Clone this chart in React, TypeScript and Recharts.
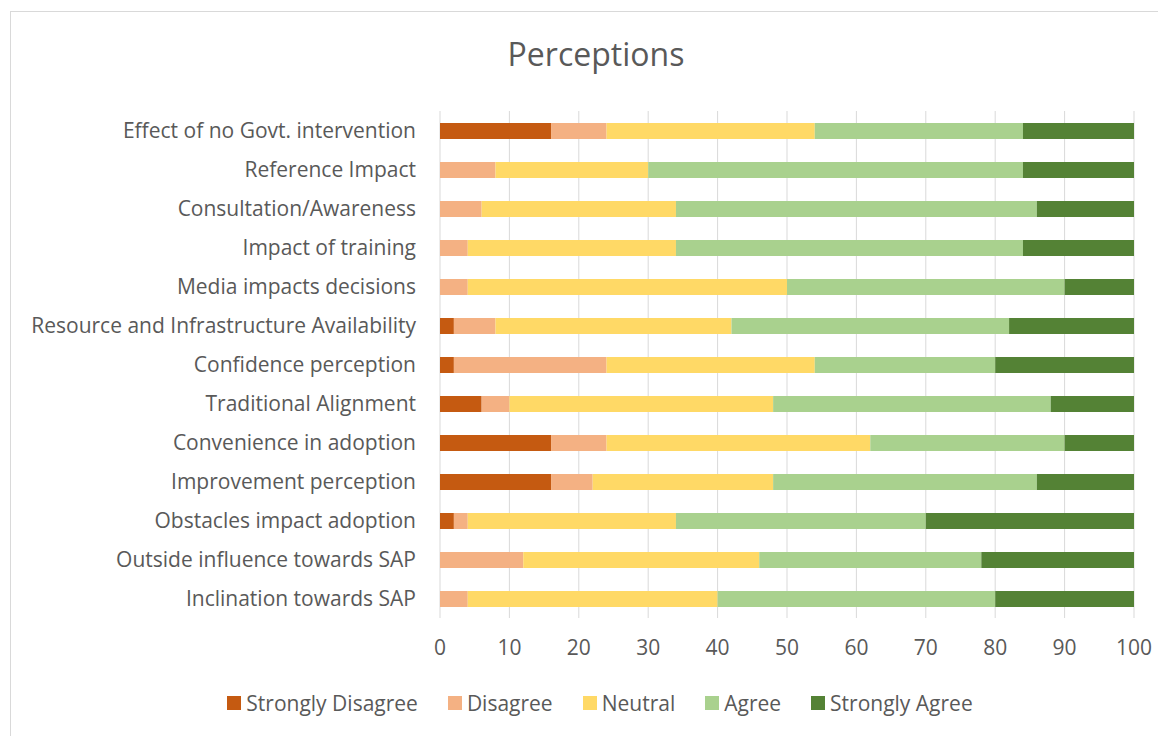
import { BarChart, Bar, XAxis, YAxis, CartesianGrid, Legend } from 'recharts'

const categories = [
  'Effect of no Govt. intervention',
  'Reference Impact',
  'Consultation/Awareness',
  'Impact of training',
  'Media impacts decisions',
  'Resource and Infrastructure Availability',
  'Confidence perception',
  'Traditional Alignment',
  'Convenience in adoption',
  'Improvement perception',
  'Obstacles impact adoption',
  'Outside influence towards SAP',
  'Inclination towards SAP',
]

const stronglyDisagree = [16, 0, 0, 0, 0, 2, 2, 6, 16, 16, 2, 0, 0]
const disagree = [8, 8, 6, 4, 4, 6, 22, 4, 8, 6, 2, 12, 4]
const neutral = [30, 22, 28, 30, 46, 34, 30, 38, 38, 26, 30, 34, 36]
const agree = [30, 54, 52, 50, 40, 40, 26, 40, 28, 38, 36, 32, 40]
const stronglyAgree = [16, 16, 14, 16, 10, 18, 20, 12, 10, 14, 30, 22, 20]

const xTicks = [0, 10, 20, 30, 40, 50, 60, 70, 80, 90, 100]

const series = [
  { key: 'Strongly Disagree', values: stronglyDisagree, color: '#C55A11' },
  { key: 'Disagree', values: disagree, color: '#F4B183' },
  { key: 'Neutral', values: neutral, color: '#FFD966' },
  { key: 'Agree', values: agree, color: '#A9D18E' },
  { key: 'Strongly Agree', values: stronglyAgree, color: '#548235' },
]

const data = categories.map((name, i) => {
  const row: Record<string, string | number> = { name }
  for (const s of series) row[s.key] = s.values[i]
  return row
})

const font = '"Open Sans", sans-serif'
const textColor = '#595959'

// legend in the series order, excel style
const renderLegend = () => (
  <div style={{ display: 'flex', justifyContent: 'center', gap: 30, paddingLeft: 26 }}>
    {series.map(s => (
      <div key={s.key} style={{ display: 'flex', alignItems: 'center', gap: 5 }}>
        <span style={{ width: 14, height: 14, background: s.color, display: 'inline-block' }} />
        <span style={{ color: textColor, fontSize: 21, fontFamily: font }}>{s.key}</span>
      </div>
    ))}
  </div>
)

export default function App() {
  return (
    <div style={{ position: 'relative', width: 1158, height: 728, fontFamily: font }}>
      <div style={{
        position: 'absolute', left: 2, top: 3, width: 1152, height: 740,
        border: '1px solid #d9d9d9', boxSizing: 'border-box',
      }} />
      <div style={{
        position: 'absolute', left: 0, width: 1176, top: 24, textAlign: 'center',
        fontSize: 32, color: textColor,
      }}>Perceptions</div>
      <div style={{ position: 'absolute', left: 0, top: 0 }}>
        <BarChart
          width={1158}
          height={728}
          data={data}
          layout="vertical"
          margin={{ top: 103, right: 32, left: 0, bottom: 60 }}
        >
          <CartesianGrid horizontal={false} stroke="#d9d9d9" />
          <XAxis
            type="number"
            domain={[0, 100]}
            ticks={xTicks}
            axisLine={false}
            tickLine={false}
            tickMargin={16}
            height={30}
            tick={{ fill: textColor, fontSize: 21, fontFamily: font }}
          />
          <YAxis
            type="category"
            dataKey="name"
            width={432}
            axisLine={false}
            tickLine={false}
            tickMargin={18}
            interval={0}
            tick={{ fill: textColor, fontSize: 21, fontFamily: font }}
          />
          <Legend
            verticalAlign="bottom"
            content={renderLegend}
            wrapperStyle={{ top: 681, left: 0, width: 1158 }}
          />
          {series.map(s => (
            <Bar
              key={s.key}
              dataKey={s.key}
              stackId="a"
              fill={s.color}
              barSize={16}
              isAnimationActive={false}
            />
          ))}
        </BarChart>
      </div>
    </div>
  )
}
